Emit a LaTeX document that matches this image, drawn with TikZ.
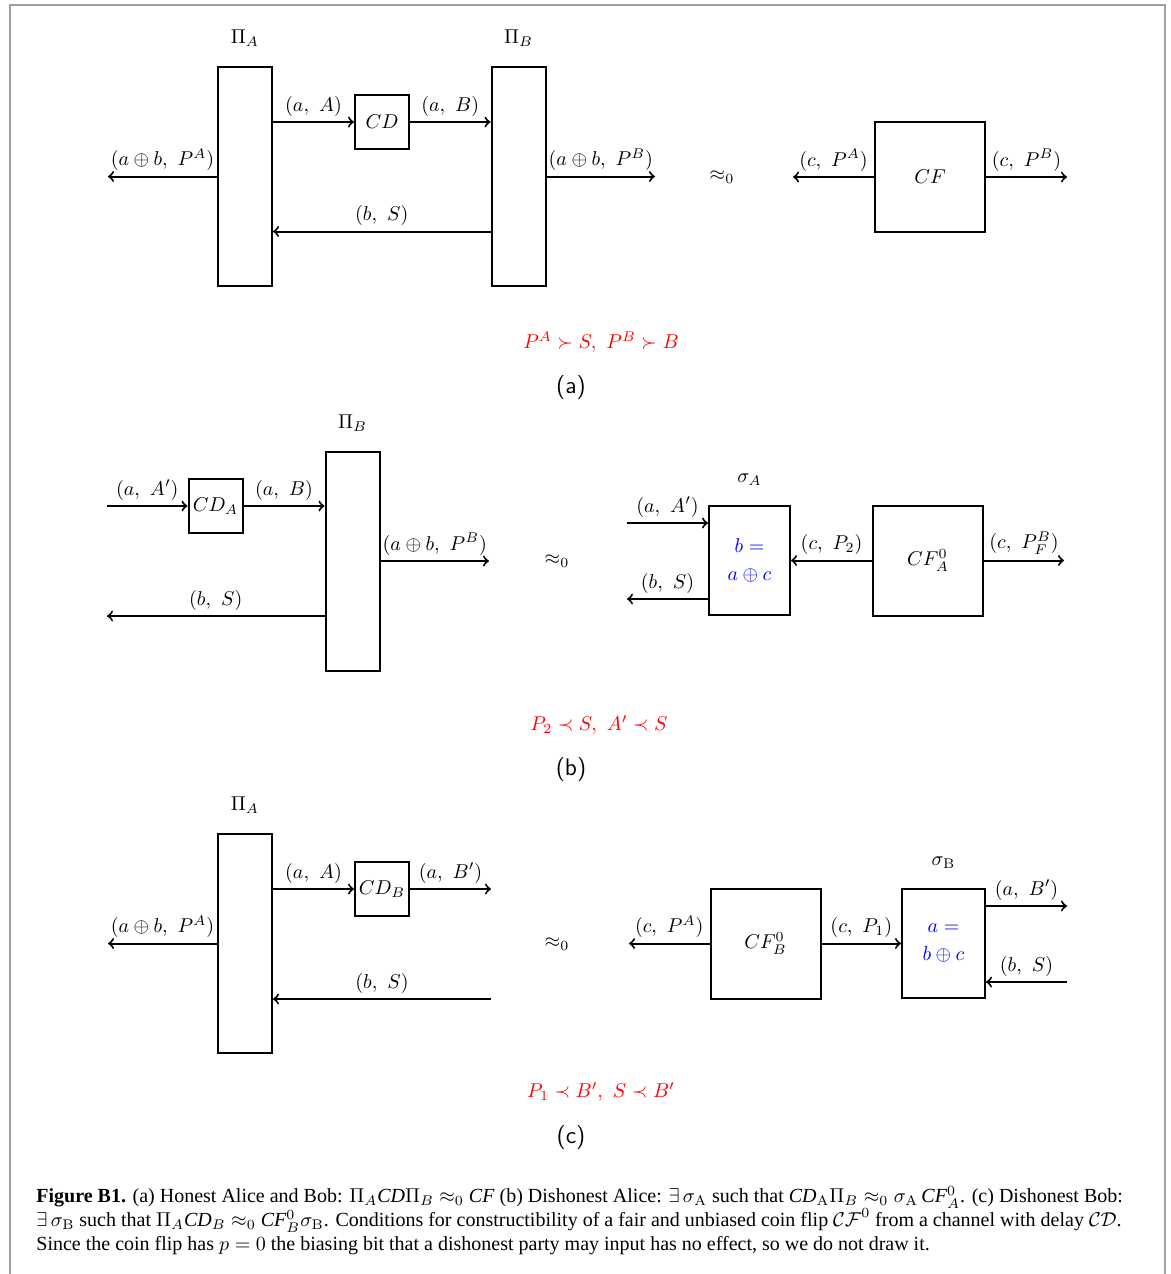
\documentclass[tikz,border=0pt]{standalone}
\usepackage{amsmath,amssymb}
\usepackage{fontspec}
\newfontfamily\capfont{Liberation Serif}
\usetikzlibrary{positioning}

\begin{document}
\begin{tikzpicture}[
  x=0.5pt,y=-0.5pt,
  party/.style={draw,line width=1pt,minimum width=27pt,minimum height=109.5pt,inner sep=0pt},
  delay/.style={draw,line width=1pt,minimum width=27pt,minimum height=27pt,inner sep=0pt},
  flip/.style={draw,line width=1pt,minimum width=55pt,minimum height=55pt,inner sep=0pt},
  sim/.style={draw,line width=1pt,minimum height=54.5pt,inner sep=0pt,
              align=center,text=blue},
  arr/.style={->,line width=1pt},
  lbl/.style={above,inner sep=2.5pt},
  cond/.style={text=red},
  tag/.style={font=\sffamily\large},
]
\useasboundingbox (0,0) rectangle (1171,1274);
\draw[gray!75,line width=1pt] (10,5) rectangle (1165,1300);

% (a) honest Alice and Bob
\node[party] (pia) at (245,176.5) {};
\node[above=6pt of pia] (pialbl) {$\Pi_A$};
\node[party] (pib) at (518.5,176.5) {};
\node[above=6pt of pib] (piblbl) {$\Pi_B$};
\node[delay] (cd) at (382,122) {$CD$};
\coordinate (aout) at (108,176.5);
\coordinate (bout) at (655,176.5);
\draw[arr] (pia.east |- cd) -- node[lbl] {$(a,\ A)$} (cd.west);
\draw[arr] (cd.east) -- node[lbl] {$(a,\ B)$} (cd.east -| pib.west);
\draw[arr] (pia.west) -- node[lbl] {$(a\oplus b,\ P^A)$} (aout);
\draw[arr] (pib.east) -- node[lbl] {$(a\oplus b,\ P^B)$} (bout);
\draw[arr] ([yshift=-27.5pt]pib.west) -- node[lbl] {$(b,\ S)$}
  ([yshift=-27.5pt]pia.east);
\node (eqa) at (722,177) {$\approx_0$};
\node[flip] (cf) at (930,177) {$CF$};
\coordinate (cfl) at (793,177);
\coordinate (cfr) at (1067,177);
\draw[arr] (cf.west) -- node[lbl] {$(c,\ P^A)$} (cfl);
\draw[arr] (cf.east) -- node[lbl] {$(c,\ P^B)$} (cfr);
\node[cond] (conda) at (601,342) {$P^A \succ S,\ P^B \succ B$};
\node[tag] (taga) at (571,388) {(a)};

% (b) dishonest Alice
\node[party] (pib2) at (352.5,561) {};
\node[above=6pt of pib2] (pib2lbl) {$\Pi_B$};
\node[delay] (cda) at (215.5,506) {$CD_A$};
\coordinate (ain) at (107,506);
\coordinate (bout2) at (489,561);
\coordinate (sout2) at (107,616);
\draw[arr] (ain) -- node[lbl] {$(a,\ A')$} (cda.west);
\draw[arr] (cda.east) -- node[lbl] {$(a,\ B)$} (cda.east -| pib2.west);
\draw[arr] (pib2.east) -- node[lbl] {$(a\oplus b,\ P^B)$} (bout2);
\draw[arr] ([yshift=-27.5pt]pib2.west) -- node[lbl] {$(b,\ S)$} (sout2);
\node (eqb) at (557,561) {$\approx_0$};
\node[sim,minimum width=40.5pt] (sa) at (749.5,560.5) {$b=$\\[2pt]$a\oplus c$};
\node[above=6pt of sa] (salbl) {$\sigma_A$};
\node[flip] (cfa) at (928,560.5) {$CF_A^0$};
\coordinate (sain) at (627,523);
\coordinate (saout) at (627,599);
\coordinate (cfar) at (1064,560.5);
\draw[arr] (sain) -- node[lbl] {$(a,\ A')$} (sain -| sa.west);
\draw[arr] (sa.west |- saout) -- node[lbl] {$(b,\ S)$} (saout);
\draw[arr] (cfa.west) -- node[lbl] {$(c,\ P_2)$} (sa.east);
\draw[arr] (cfa.east) -- node[lbl] {$(c,\ P_F^B)$} (cfar);
\node[cond] (condb) at (599,725) {$P_2 \prec S,\ A' \prec S$};
\node[tag] (tagb) at (571,770) {(b)};

% (c) dishonest Bob
\node[party] (pia3) at (245,943.5) {};
\node[above=6pt of pia3] (pia3lbl) {$\Pi_A$};
\node[delay] (cdb) at (382,889) {$CD_B$};
\coordinate (cdbr) at (491,889);
\coordinate (aout3) at (108,943.5);
\coordinate (bin3) at (491,999);
\draw[arr] (pia3.east |- cdb) -- node[lbl] {$(a,\ A)$} (cdb.west);
\draw[arr] (cdb.east) -- node[lbl] {$(a,\ B')$} (cdbr);
\draw[arr] (pia3.west) -- node[lbl] {$(a\oplus b,\ P^A)$} (aout3);
\draw[arr] (bin3) -- node[lbl] {$(b,\ S)$} (bin3 -| pia3.east);
\node (eqc) at (557,944) {$\approx_0$};
\node[flip] (cfb) at (765.5,943.5) {$CF_B^0$};
\node[sim,minimum width=41.5pt] (sb) at (943.5,943.5) {$a=$\\[2pt]$b\oplus c$};
\node[above=6pt of sb] (sblbl) {$\sigma_{\mathrm{B}}$};
\coordinate (cfbl) at (629,943.5);
\coordinate (sbout) at (1067,906);
\coordinate (sbin) at (1067,982);
\draw[arr] (cfb.west) -- node[lbl] {$(c,\ P^A)$} (cfbl);
\draw[arr] (cfb.east) -- node[lbl] {$(c,\ P_1)$} (sb.west);
\draw[arr] (sb.east |- sbout) -- node[lbl] {$(a,\ B')$} (sbout);
\draw[arr] (sbin) -- node[lbl] {$(b,\ S)$} (sbin -| sb.east);
\node[cond] (condc) at (601,1092) {$P_1 \prec B',\ S \prec B'$};
\node[tag] (tagc) at (571,1137) {(c)};

% caption
\node[anchor=north west,align=left,inner sep=0pt,font=\capfont] (cap) at (36,1186)
  {\textbf{Figure B1.} (a) Honest Alice and Bob: $\Pi_A$\textit{CD}$\Pi_B \approx_0$ \textit{CF} (b) Dishonest Alice: $\exists\,\sigma_{\mathrm{A}}$ such that \textit{CD}$_{\mathrm{A}}\Pi_B \approx_0 \sigma_{\mathrm{A}}$\,\textit{CF}$_A^0$. (c) Dishonest Bob:\\
   $\exists\,\sigma_{\mathrm{B}}$ such that $\Pi_A$\textit{CD}$_B \approx_0$ \textit{CF}$_B^0\sigma_{\mathrm{B}}$. Conditions for constructibility of a fair and unbiased coin flip $\mathcal{CF}^0$ from a channel with delay $\mathcal{CD}$.\\
   Since the coin flip has $p=0$ the biasing bit that a dishonest party may input has no effect, so we do not draw it.};
\end{tikzpicture}
\end{document}
